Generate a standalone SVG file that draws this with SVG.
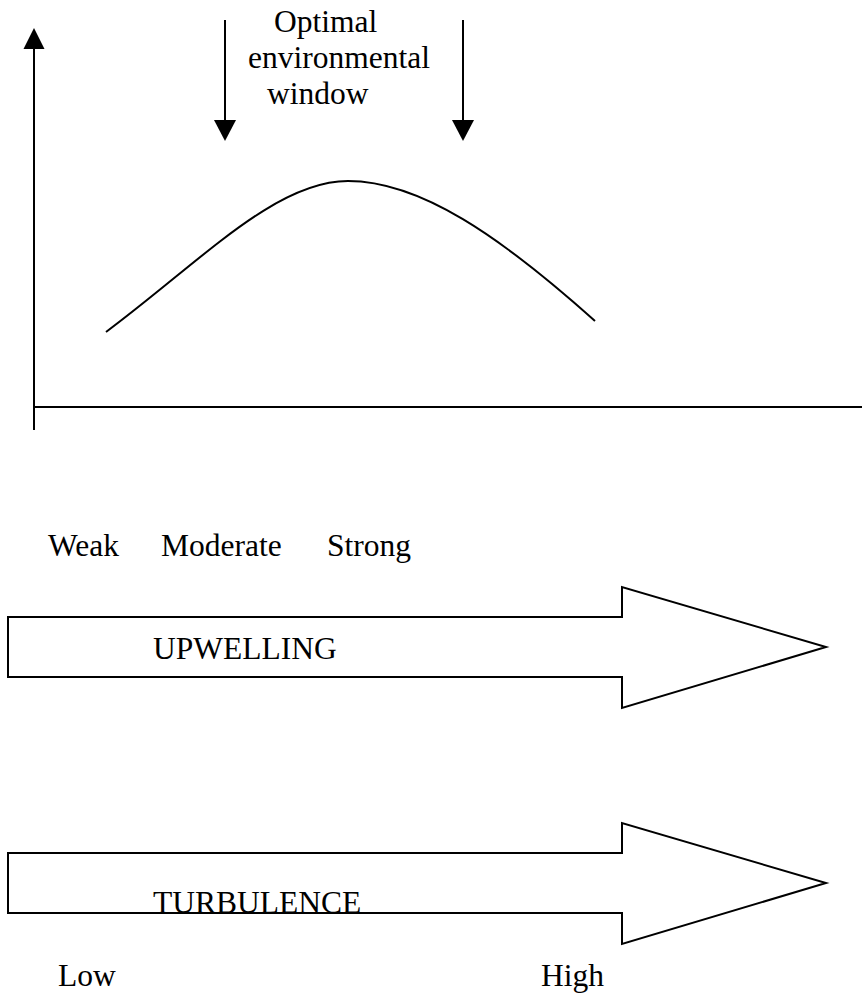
<svg xmlns="http://www.w3.org/2000/svg" width="863" height="999" viewBox="0 0 863 999">
  <style>
    .ln { stroke: #000; stroke-width: 2; fill: none; }
    .hd { fill: #000; stroke: none; }
    .bar { fill: #fff; stroke: #000; stroke-width: 2; stroke-linejoin: miter; }
    .t { font-family: "Liberation Serif", "Times New Roman", serif; font-size: 31.5px; fill: #000; }
  </style>
  <rect width="863" height="999" fill="#fff"/>

  <!-- axes -->
  <g id="axes">
    <line class="ln" x1="34" y1="46" x2="34" y2="430"/>
    <polygon class="hd" points="34,28 23.5,49 44.5,49"/>
    <line class="ln" x1="34" y1="407" x2="862" y2="407"/>
  </g>

  <!-- response curve -->
  <g id="curve">
    <path class="ln" d="M106,332 C200,262 275,181 348,181 C420,181 500,236 595,321"/>
  </g>

  <!-- window markers -->
  <g id="connectors">
    <line class="ln" x1="225" y1="20" x2="225" y2="122"/>
    <polygon class="hd" points="214,120 236,120 225,141"/>
    <line class="ln" x1="463" y1="20" x2="463" y2="122"/>
    <polygon class="hd" points="452,120 474,120 463,141"/>
  </g>

  <g id="window-label">
    <text class="t" x="274" y="32">Optimal</text>
    <text class="t" x="248" y="68">environmental</text>
    <text class="t" x="267" y="104">window</text>
  </g>

  <g id="scale-labels">
    <text class="t" x="48" y="556">Weak</text>
    <text class="t" x="161" y="556">Moderate</text>
    <text class="t" x="327" y="556">Strong</text>
  </g>

  <!-- upwelling arrow -->
  <g id="upwelling">
    <path class="bar" d="M8,617 H622 V587 L826,647 L622,708 V677 H8 Z"/>
    <text class="t" x="153" y="659">UPWELLING</text>
  </g>

  <!-- turbulence arrow -->
  <g id="turbulence">
    <path class="bar" d="M8,853 H622 V823 L826,883 L622,944 V913 H8 Z"/>
    <text class="t" x="153" y="913">TURBULENCE</text>
  </g>

  <g id="end-labels">
    <text class="t" x="58" y="986">Low</text>
    <text class="t" x="541" y="986">High</text>
  </g>
</svg>
